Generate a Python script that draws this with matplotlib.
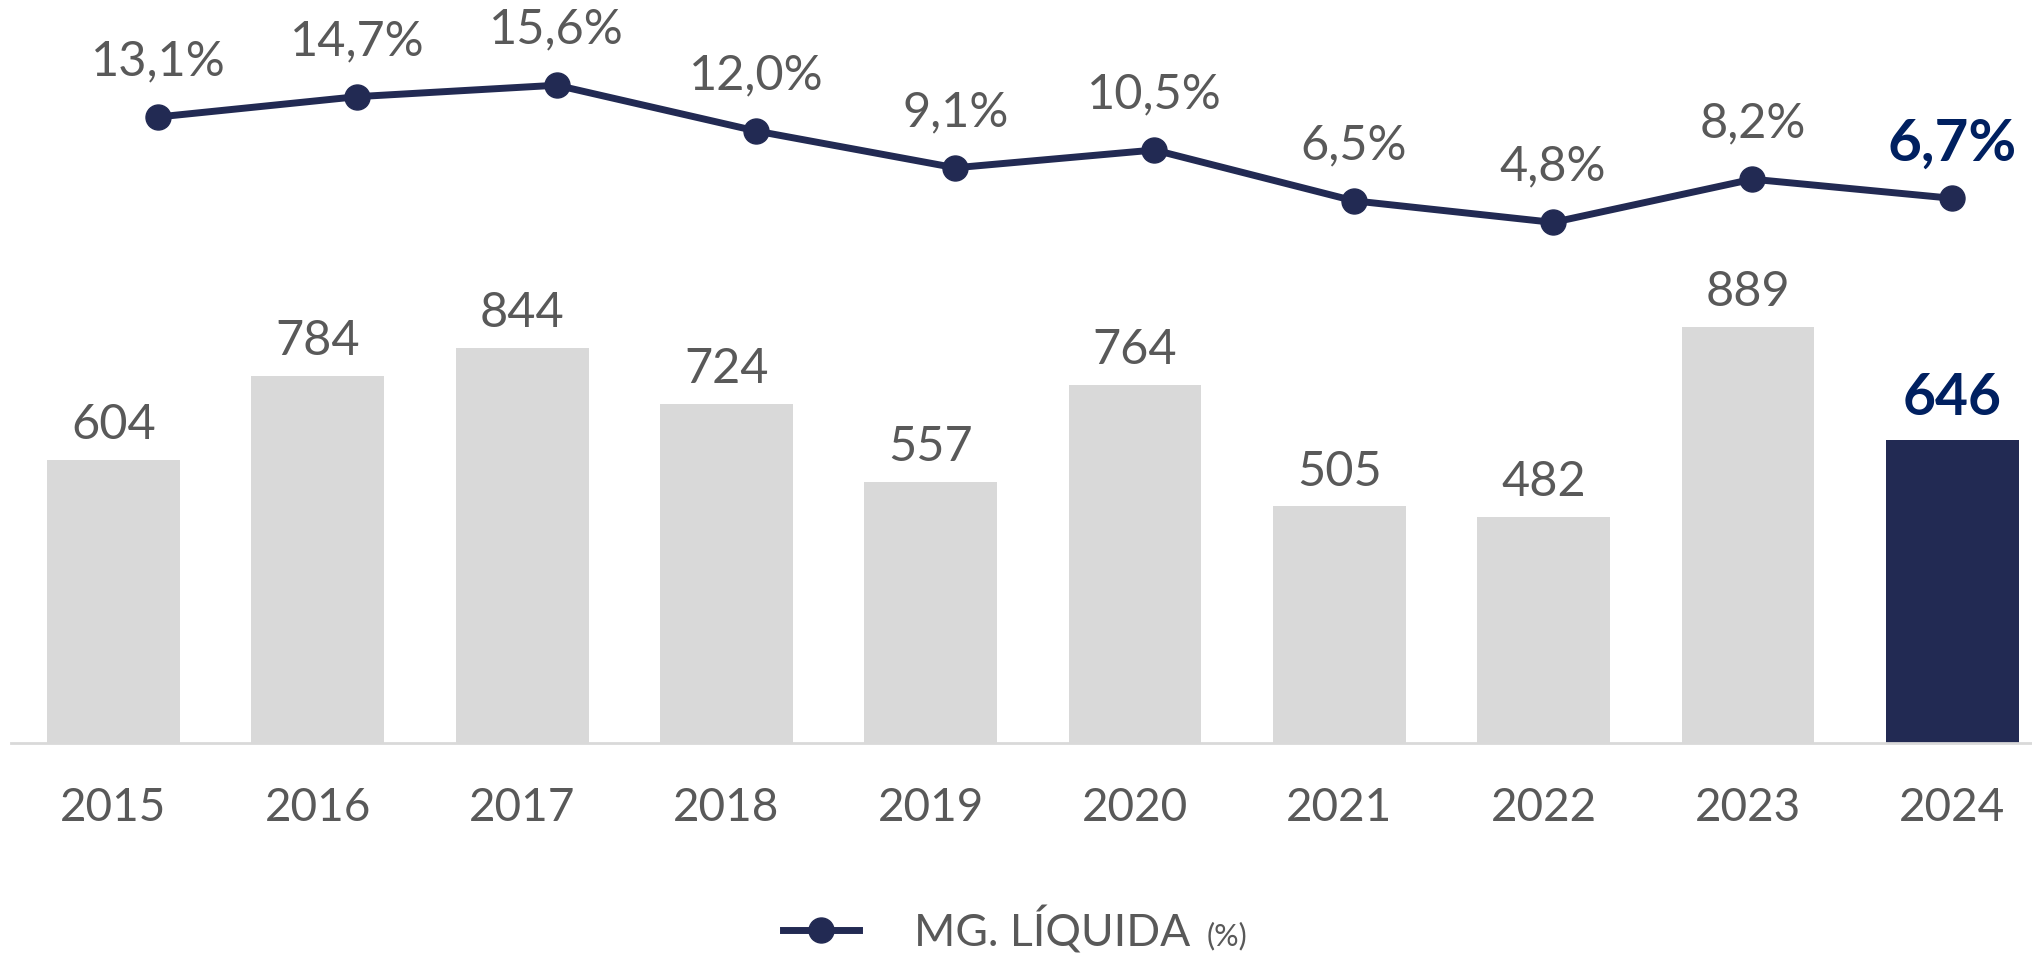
import numpy as np
import matplotlib
matplotlib.use('Agg')
import matplotlib.pyplot as plt

plt.rcParams['font.family'] = ['Lato', 'DejaVu Sans']

# data
years = ['2015', '2016', '2017', '2018', '2019', '2020', '2021', '2022', '2023', '2024']
lucro = [604, 784, 844, 724, 557, 764, 505, 482, 889, 646]
margem = [13.1, 14.7, 15.6, 12.0, 9.1, 10.5, 6.5, 4.8, 8.2, 6.7]
margem_lbl = ['13,1%', '14,7%', '15,6%', '12,0%', '9,1%', '10,5%', '6,5%', '4,8%', '8,2%', '6,7%']
legend_lbl = 'MG. LÍQUIDA'

GRAY_BAR = '#D9D9D9'
NAVY = '#222A53'
BOLD_BLUE = '#002060'
TXT = '#595959'

fig = plt.figure(figsize=(20.33, 9.55), dpi=100)
rect = [11 / 2033, 212 / 955, 1 - 11 / 2033, 743 / 955]
ax = fig.add_axes(rect)
x = np.arange(len(years))
last = len(years) - 1

colors = [GRAY_BAR] * last + [NAVY]
bars = ax.bar(x, lucro, width=0.65, color=colors, zorder=2)
ax.set_xlim(-0.502, 9.395)
ax.set_ylim(0, 1586)

for i, b in enumerate(bars):
    if i == last:
        ax.annotate(str(lucro[i]), (b.get_x() + b.get_width() / 2, lucro[i]),
                    xytext=(0, 18), textcoords='offset points', ha='center', va='baseline',
                    fontsize=41, fontweight='bold', color=BOLD_BLUE)
    else:
        ax.annotate(str(lucro[i]), (b.get_x() + b.get_width() / 2, lucro[i]),
                    xytext=(0, 15), textcoords='offset points', ha='center', va='baseline',
                    fontsize=35, color=TXT)

for s in ['top', 'right', 'left']:
    ax.spines[s].set_visible(False)
ax.spines['bottom'].set_color(GRAY_BAR)
ax.spines['bottom'].set_linewidth(2)
ax.set_yticks([])
ax.set_xticks(x)
ax.set_xticklabels(years, fontsize=33, color=TXT)
ax.tick_params(axis='x', length=0, pad=32)

# margin line sits on its own axes (points are not centred on the bars)
ax2 = fig.add_axes(rect, facecolor='none')
ax2.set_xlim(-0.7376, 9.408)
ax2.set_ylim(-36.19, 22.31)
ax2.axis('off')
line, = ax2.plot(x, margem, color=NAVY, lw=5, marker='o', markersize=18, zorder=3,
                 label=legend_lbl)
for i, v in enumerate(margem):
    if i == last:
        ax2.annotate(margem_lbl[i], (x[i], v), xytext=(0, 27), textcoords='offset points',
                     ha='center', va='baseline', fontsize=42, fontweight='bold', color=BOLD_BLUE)
    else:
        ax2.annotate(margem_lbl[i], (x[i], v), xytext=(0, 30), textcoords='offset points',
                     ha='center', va='baseline', fontsize=35, color=TXT)

leg = fig.legend(handles=[line], labels=[legend_lbl], loc='center left',
                 bbox_to_anchor=(783 / 2033, 1 - 930 / 955),
                 frameon=False, fontsize=32, handlelength=1.7, handletextpad=1.25,
                 labelcolor=TXT, borderpad=0, borderaxespad=0)

fig.canvas.draw()
bb = leg.get_texts()[0].get_window_extent().transformed(fig.transFigure.inverted())
fig.text(bb.x1 + 16 / 2033, bb.y0 + 4 / 955, '(%)', ha='left', va='bottom',
         fontsize=22, color=TXT)

fig.savefig('out.png', dpi=100)
